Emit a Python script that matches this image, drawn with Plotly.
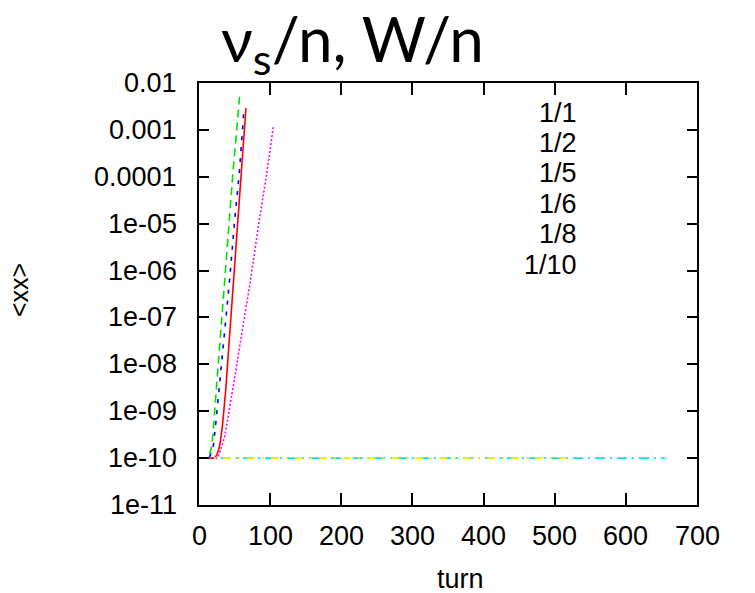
import math
import plotly.graph_objects as go

# ---------------- data ----------------
turn_1_1 = [0, 22, 25, 28, 30, 33, 37.5, 43, 48, 54, 60, 66]
xx_1_1 = [1e-10, 1e-10, 1.17e-10, 1.58e-10, 2.24e-10, 5.0e-10, 2.8e-9, 4.0e-8, 5.6e-7, 1.0e-5, 1.6e-4, 2.95e-3]

turn_1_2 = [0, 12, 15, 18, 21, 25, 30, 36, 42, 48, 53, 57]
xx_1_2 = [1e-10, 1e-10, 1.26e-10, 1.78e-10, 6.3e-10, 4.0e-9, 3.55e-8, 6.3e-7, 1.0e-5, 1.41e-4, 1.0e-3, 5.1e-3]

turn_1_5 = [0, 14, 17, 20, 24, 29.5, 36, 43, 50, 57, 63]
xx_1_5 = [1e-10, 1e-10, 1.26e-10, 1.74e-10, 6.3e-10, 4.6e-9, 5.6e-8, 6.3e-7, 1.12e-5, 1.41e-4, 2.5e-3]

turn_1_6 = [0, 25, 28, 32, 36, 40, 44, 50, 60, 72, 84, 96, 104.5]
xx_1_6 = [1e-10, 1e-10, 1.17e-10, 1.74e-10, 2.8e-10, 6.3e-10, 1.58e-9, 5.0e-9, 4.5e-8, 5.6e-7, 1.0e-5, 1.41e-4, 1.17e-3]

turn_1_8 = [0, 655]
xx_1_8 = [1e-10, 1e-10]

turn_1_10 = [0, 520]
xx_1_10 = [1e-10, 1e-10]

series_names = ["1/1", "1/2", "1/5", "1/6", "1/8", "1/10"]
series_turns = [turn_1_1, turn_1_2, turn_1_5, turn_1_6, turn_1_8, turn_1_10]
series_values = [xx_1_1, xx_1_2, xx_1_5, xx_1_6, xx_1_8, xx_1_10]

x_ticks = [0, 100, 200, 300, 400, 500, 600, 700]
x_tick_labels = ["0", "100", "200", "300", "400", "500", "600", "700"]
y_ticks = [1e-2, 1e-3, 1e-4, 1e-5, 1e-6, 1e-7, 1e-8, 1e-9, 1e-10, 1e-11]
y_tick_labels = ["0.01", "0.001", "0.0001", "1e-05", "1e-06", "1e-07",
                 "1e-08", "1e-09", "1e-10", "1e-11"]

# ---------------- styles ----------------
colors = ["#ff0000", "#00e000", "#0000ff", "#ff00ff", "#00e8e8", "#f0f000"]
dashes = ["solid", "8px,5px", "4px,7px", "2px,2px", "10px,5px,2px,5px", "8px,7px,2px,7px"]

W, H = 755, 593
L, R, T, B = 199, 697, 83, 505   # plot area in pixels


def px(x):
    return (x - L) / (R - L)


def py(y):
    return (B - y) / (B - T)


fig = go.Figure()
for name, t, v, c, d in zip(series_names, series_turns, series_values, colors, dashes):
    fig.add_trace(go.Scatter(x=t, y=v, mode="lines", name=name,
                             line=dict(color=c, width=1.6, dash=d),
                             showlegend=False))

font_name = "Liberation Sans, Arial, sans-serif"
tick_font = dict(family=font_name, size=27, color="black")

fig.update_layout(
    width=W, height=H, margin=dict(l=L, r=W - R, t=T, b=H - B),
    paper_bgcolor="white", plot_bgcolor="white", showlegend=False,
    xaxis=dict(range=[0, 700], tickmode="array", tickvals=x_ticks,
               ticks="inside", ticklen=12, tickwidth=2, tickcolor="black",
               showline=True, linewidth=2, linecolor="black", mirror="ticks",
               showgrid=False, zeroline=False, showticklabels=False),
    yaxis=dict(type="log", range=[-11, -2], tickmode="array", tickvals=y_ticks,
               ticks="inside", ticklen=10, tickwidth=2, tickcolor="black",
               showline=True, linewidth=2, linecolor="black", mirror="ticks",
               showgrid=False, zeroline=False, showticklabels=False),
)

annotations = [
    dict(text="ν<sub>s</sub>/n, W/n", x=px(352), y=py(42), xref="paper", yref="paper",
         xanchor="center", yanchor="middle", showarrow=False,
         font=dict(family="Lato, sans-serif", size=62, color="black")),
    dict(text="&lt;xx&gt;", x=px(19), y=py(290), xref="paper", yref="paper",
         xanchor="center", yanchor="middle", textangle=-90, showarrow=False,
         font=dict(family=font_name, size=25, color="black")),
    dict(text="turn", x=px(460), y=py(579), xref="paper", yref="paper",
         xanchor="center", yanchor="middle", showarrow=False,
         font=dict(family=font_name, size=27, color="black")),
]

for val, lab in zip(y_ticks, y_tick_labels):
    annotations.append(dict(text=lab, x=px(179), y=math.log10(val), xref="paper", yref="y",
                            xanchor="right", yanchor="middle", showarrow=False,
                            font=tick_font))

for val, lab in zip(x_ticks, x_tick_labels):
    annotations.append(dict(text=lab, x=val, y=py(536), xref="x", yref="paper",
                            xanchor="center", yanchor="middle", showarrow=False,
                            font=tick_font))

legend_rows = [113, 143, 173, 204, 234, 265]
for name, ry in zip(series_names, legend_rows):
    annotations.append(dict(text=name, x=px(579), y=py(ry), xref="paper", yref="paper",
                            xanchor="right", yanchor="middle", showarrow=False,
                            font=dict(family=font_name, size=27, color="black")))

fig.update_layout(annotations=annotations)

fig.write_html("out.html")
